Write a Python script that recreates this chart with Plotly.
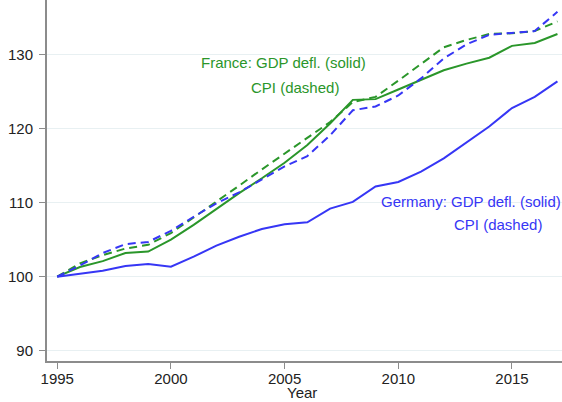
import plotly.graph_objects as go

years = list(range(1995, 2018))

france_gdp = [100.0, 101.3, 102.1, 103.2, 103.4, 105.0, 107.0, 109.2, 111.3, 113.3, 115.4,
              117.8, 120.7, 123.9, 124.0, 125.3, 126.6, 127.9, 128.8, 129.6, 131.2, 131.6, 132.8]
france_cpi = [100.0, 101.8, 102.9, 103.8, 104.3, 105.9, 108.0, 110.1, 112.3, 114.5, 116.6,
              118.7, 120.9, 123.6, 124.3, 126.5, 128.8, 131.0, 132.0, 132.8, 132.9, 133.2, 134.5]
germany_gdp = [100.0, 100.45, 100.8, 101.45, 101.7, 101.35, 102.7, 104.2, 105.4, 106.45, 107.1,
               107.35, 109.2, 110.1, 112.2, 112.8, 114.2, 116.0, 118.1, 120.3, 122.8, 124.3, 126.4]
germany_cpi = [100.0, 101.5, 103.2, 104.4, 104.7, 106.2, 108.1, 109.9, 111.4, 113.1, 114.9,
               116.3, 119.1, 122.5, 123.0, 124.5, 126.8, 129.5, 131.4, 132.7, 132.9, 133.2, 135.8]

green = "#2a962a"
blue = "#3636f5"
family = "Liberation Sans, Arial, sans-serif"

fig = go.Figure()
fig.add_trace(go.Scatter(x=years, y=france_gdp, mode="lines", line=dict(color=green, width=2)))
fig.add_trace(go.Scatter(x=years, y=france_cpi, mode="lines",
                         line=dict(color=green, width=2, dash="8px,5px")))
fig.add_trace(go.Scatter(x=years, y=germany_gdp, mode="lines", line=dict(color=blue, width=2)))
fig.add_trace(go.Scatter(x=years, y=germany_cpi, mode="lines",
                         line=dict(color=blue, width=2, dash="8px,5px")))

labels = [
    ("France: GDP defl. (solid)", 2004.95, 128.9, green),
    ("CPI (dashed)", 2005.45, 125.6, green),
    ("Germany: GDP defl. (solid)", 2013.2, 110.2, blue),
    ("CPI (dashed)", 2014.37, 107.0, blue),
]
for text, x, y, color in labels:
    fig.add_annotation(x=x, y=y, text=text, showarrow=False,
                       font=dict(family=family, size=15, color=color))

# axis title placed by hand, Stata puts it tight under the tick labels
fig.add_annotation(x=2005.75, y=-0.058, xref="x", yref="paper", text="Year",
                   showarrow=False, yanchor="top",
                   font=dict(family=family, size=15, color="#222222"))

fig.update_layout(
    width=562, height=402,
    margin=dict(l=47, r=0, t=0, b=41),
    paper_bgcolor="white", plot_bgcolor="white",
    showlegend=False,
    font=dict(family=family, size=15, color="#222222"),
)
fig.update_xaxes(
    range=[1994.55, 2017.2], tickvals=[1995, 2000, 2005, 2010, 2015],
    showgrid=False, zeroline=False, automargin=False,
    showline=True, linecolor="#8c8c8c", linewidth=2,
    ticks="outside", ticklen=6, tickcolor="#8c8c8c", ticklabelstandoff=-3,
)
fig.update_yaxes(
    range=[88.6, 137.4], tickvals=[90, 100, 110, 120, 130],
    showgrid=True, gridcolor="#e8f0f2", gridwidth=1, zeroline=False, automargin=False,
    showline=True, linecolor="#8c8c8c", linewidth=2,
    ticks="outside", ticklen=6, tickcolor="#8c8c8c", ticklabelstandoff=3,
)

# drop the page's default body margin so the figure fills the window
fig.write_html("out.html", config={"displayModeBar": False},
               post_script="document.body.style.margin='0';")
